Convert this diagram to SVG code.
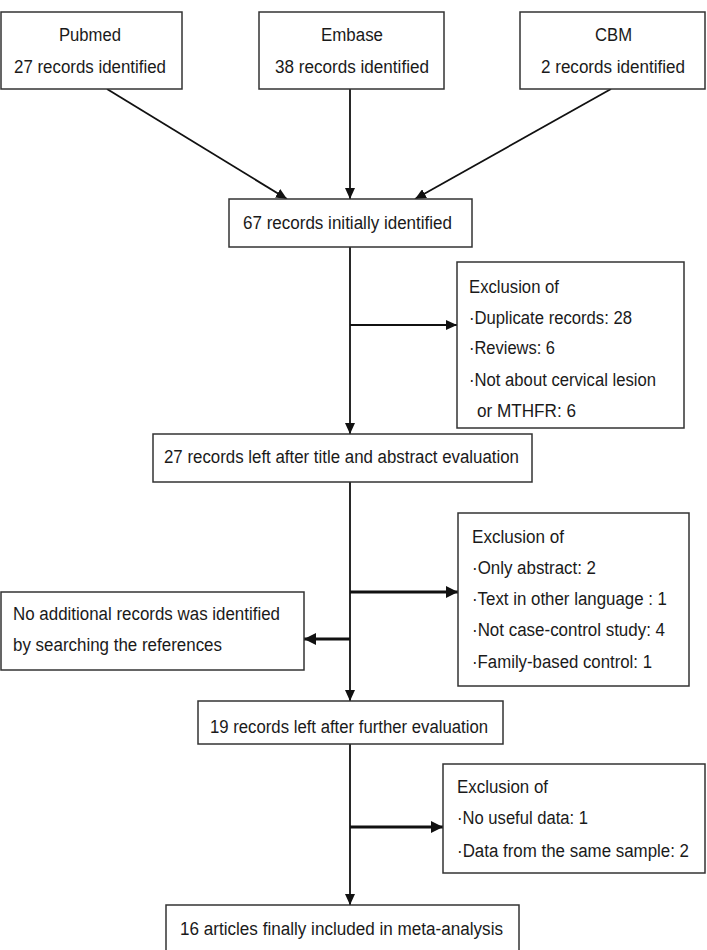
<svg xmlns="http://www.w3.org/2000/svg" width="707" height="950" viewBox="0 0 707 950">
<style>
  .box { fill: #fff; stroke: #333; stroke-width: 1.5; }
  .t { font-family: "Liberation Sans", Arial, sans-serif; font-size: 18px; fill: #1a1a1a; }
  .ln { stroke: #111; stroke-width: 1.8; fill: none; }
  .thick { stroke: #111; stroke-width: 3.2; fill: none; }
</style>
<defs>
  <marker id="ah" markerUnits="userSpaceOnUse" markerWidth="11" markerHeight="10" refX="11" refY="5" orient="auto">
    <path d="M0,0 L11,5 L0,10 z" fill="#111"/>
  </marker>
  <marker id="ahb" markerUnits="userSpaceOnUse" markerWidth="12" markerHeight="12" refX="12" refY="6" orient="auto">
    <path d="M0,0 L12,6 L0,12 z" fill="#111"/>
  </marker>
</defs>
<rect width="707" height="950" fill="#fff"/>

<g id="connectors">
  <line class="ln" x1="107" y1="89" x2="287" y2="199" marker-end="url(#ah)"/>
  <line class="ln" x1="350" y1="89" x2="350" y2="199" marker-end="url(#ah)"/>
  <line class="ln" x1="611" y1="89" x2="415" y2="199" marker-end="url(#ah)"/>
  <line class="ln" x1="350" y1="247" x2="350" y2="434" marker-end="url(#ah)"/>
  <line class="ln" x1="350" y1="325" x2="457" y2="325" marker-end="url(#ah)"/>
  <line class="ln" x1="350" y1="482" x2="350" y2="701" marker-end="url(#ah)"/>
  <line class="thick" x1="350" y1="592" x2="458" y2="592" marker-end="url(#ahb)"/>
  <line class="thick" x1="350" y1="639" x2="304" y2="639" marker-end="url(#ahb)"/>
  <line class="ln" x1="350" y1="744" x2="350" y2="905" marker-end="url(#ah)"/>
  <line class="thick" x1="350" y1="827" x2="443" y2="827" marker-end="url(#ahb)"/>
</g>

<g id="pubmed">
  <rect class="box" x="1" y="12" width="181" height="77"/>
  <text class="t" x="59" y="41" textLength="62" lengthAdjust="spacingAndGlyphs">Pubmed</text>
  <text class="t" x="14" y="73" textLength="152" lengthAdjust="spacingAndGlyphs">27 records identified</text>
</g>
<g id="embase">
  <rect class="box" x="259" y="12" width="185" height="77"/>
  <text class="t" x="321" y="41" textLength="62" lengthAdjust="spacingAndGlyphs">Embase</text>
  <text class="t" x="275" y="73" textLength="154" lengthAdjust="spacingAndGlyphs">38 records identified</text>
</g>
<g id="cbm">
  <rect class="box" x="520" y="12" width="185" height="77"/>
  <text class="t" x="595" y="41" textLength="37" lengthAdjust="spacingAndGlyphs">CBM</text>
  <text class="t" x="541" y="73" textLength="144" lengthAdjust="spacingAndGlyphs">2 records identified</text>
</g>
<g id="initial">
  <rect class="box" x="229" y="199" width="243" height="48"/>
  <text class="t" x="243" y="229" textLength="209" lengthAdjust="spacingAndGlyphs">67 records initially identified</text>
</g>
<g id="excl1">
  <rect class="box" x="457" y="262" width="227" height="166"/>
  <text class="t" x="469" y="293" textLength="90" lengthAdjust="spacingAndGlyphs">Exclusion of</text>
  <text class="t" x="469" y="324" textLength="163" lengthAdjust="spacingAndGlyphs">·Duplicate records: 28</text>
  <text class="t" x="469" y="354" textLength="86" lengthAdjust="spacingAndGlyphs">·Reviews: 6</text>
  <text class="t" x="469" y="386" textLength="187" lengthAdjust="spacingAndGlyphs">·Not about cervical lesion</text>
  <text class="t" x="477" y="417" textLength="99" lengthAdjust="spacingAndGlyphs">or MTHFR: 6</text>
</g>
<g id="after-title">
  <rect class="box" x="153" y="434" width="379" height="48"/>
  <text class="t" x="164" y="463" textLength="355" lengthAdjust="spacingAndGlyphs">27 records left after title and abstract evaluation</text>
</g>
<g id="excl2">
  <rect class="box" x="458" y="513" width="231" height="173"/>
  <text class="t" x="472" y="543" textLength="92" lengthAdjust="spacingAndGlyphs">Exclusion of</text>
  <text class="t" x="472" y="574" textLength="124" lengthAdjust="spacingAndGlyphs">·Only abstract: 2</text>
  <text class="t" x="472" y="605" textLength="195" lengthAdjust="spacingAndGlyphs">·Text in other language : 1</text>
  <text class="t" x="472" y="636" textLength="193" lengthAdjust="spacingAndGlyphs">·Not case-control study: 4</text>
  <text class="t" x="472" y="668" textLength="180" lengthAdjust="spacingAndGlyphs">·Family-based control: 1</text>
</g>
<g id="references">
  <rect class="box" x="1" y="592" width="303" height="78"/>
  <text class="t" x="13" y="620" textLength="267" lengthAdjust="spacingAndGlyphs">No additional records was identified</text>
  <text class="t" x="13" y="651" textLength="209" lengthAdjust="spacingAndGlyphs">by searching the references</text>
</g>
<g id="further">
  <rect class="box" x="198" y="701" width="305" height="43"/>
  <text class="t" x="210" y="733" textLength="278" lengthAdjust="spacingAndGlyphs">19 records left after further evaluation</text>
</g>
<g id="excl3">
  <rect class="box" x="443" y="764" width="262" height="109"/>
  <text class="t" x="457" y="793" textLength="91" lengthAdjust="spacingAndGlyphs">Exclusion of</text>
  <text class="t" x="457" y="824" textLength="131" lengthAdjust="spacingAndGlyphs">·No useful data: 1</text>
  <text class="t" x="457" y="857" textLength="232" lengthAdjust="spacingAndGlyphs">·Data from the same sample: 2</text>
</g>
<g id="final">
  <rect class="box" x="166" y="905" width="353" height="60"/>
  <text class="t" x="180" y="935" textLength="323" lengthAdjust="spacingAndGlyphs">16 articles finally included in meta-analysis</text>
</g>
</svg>
